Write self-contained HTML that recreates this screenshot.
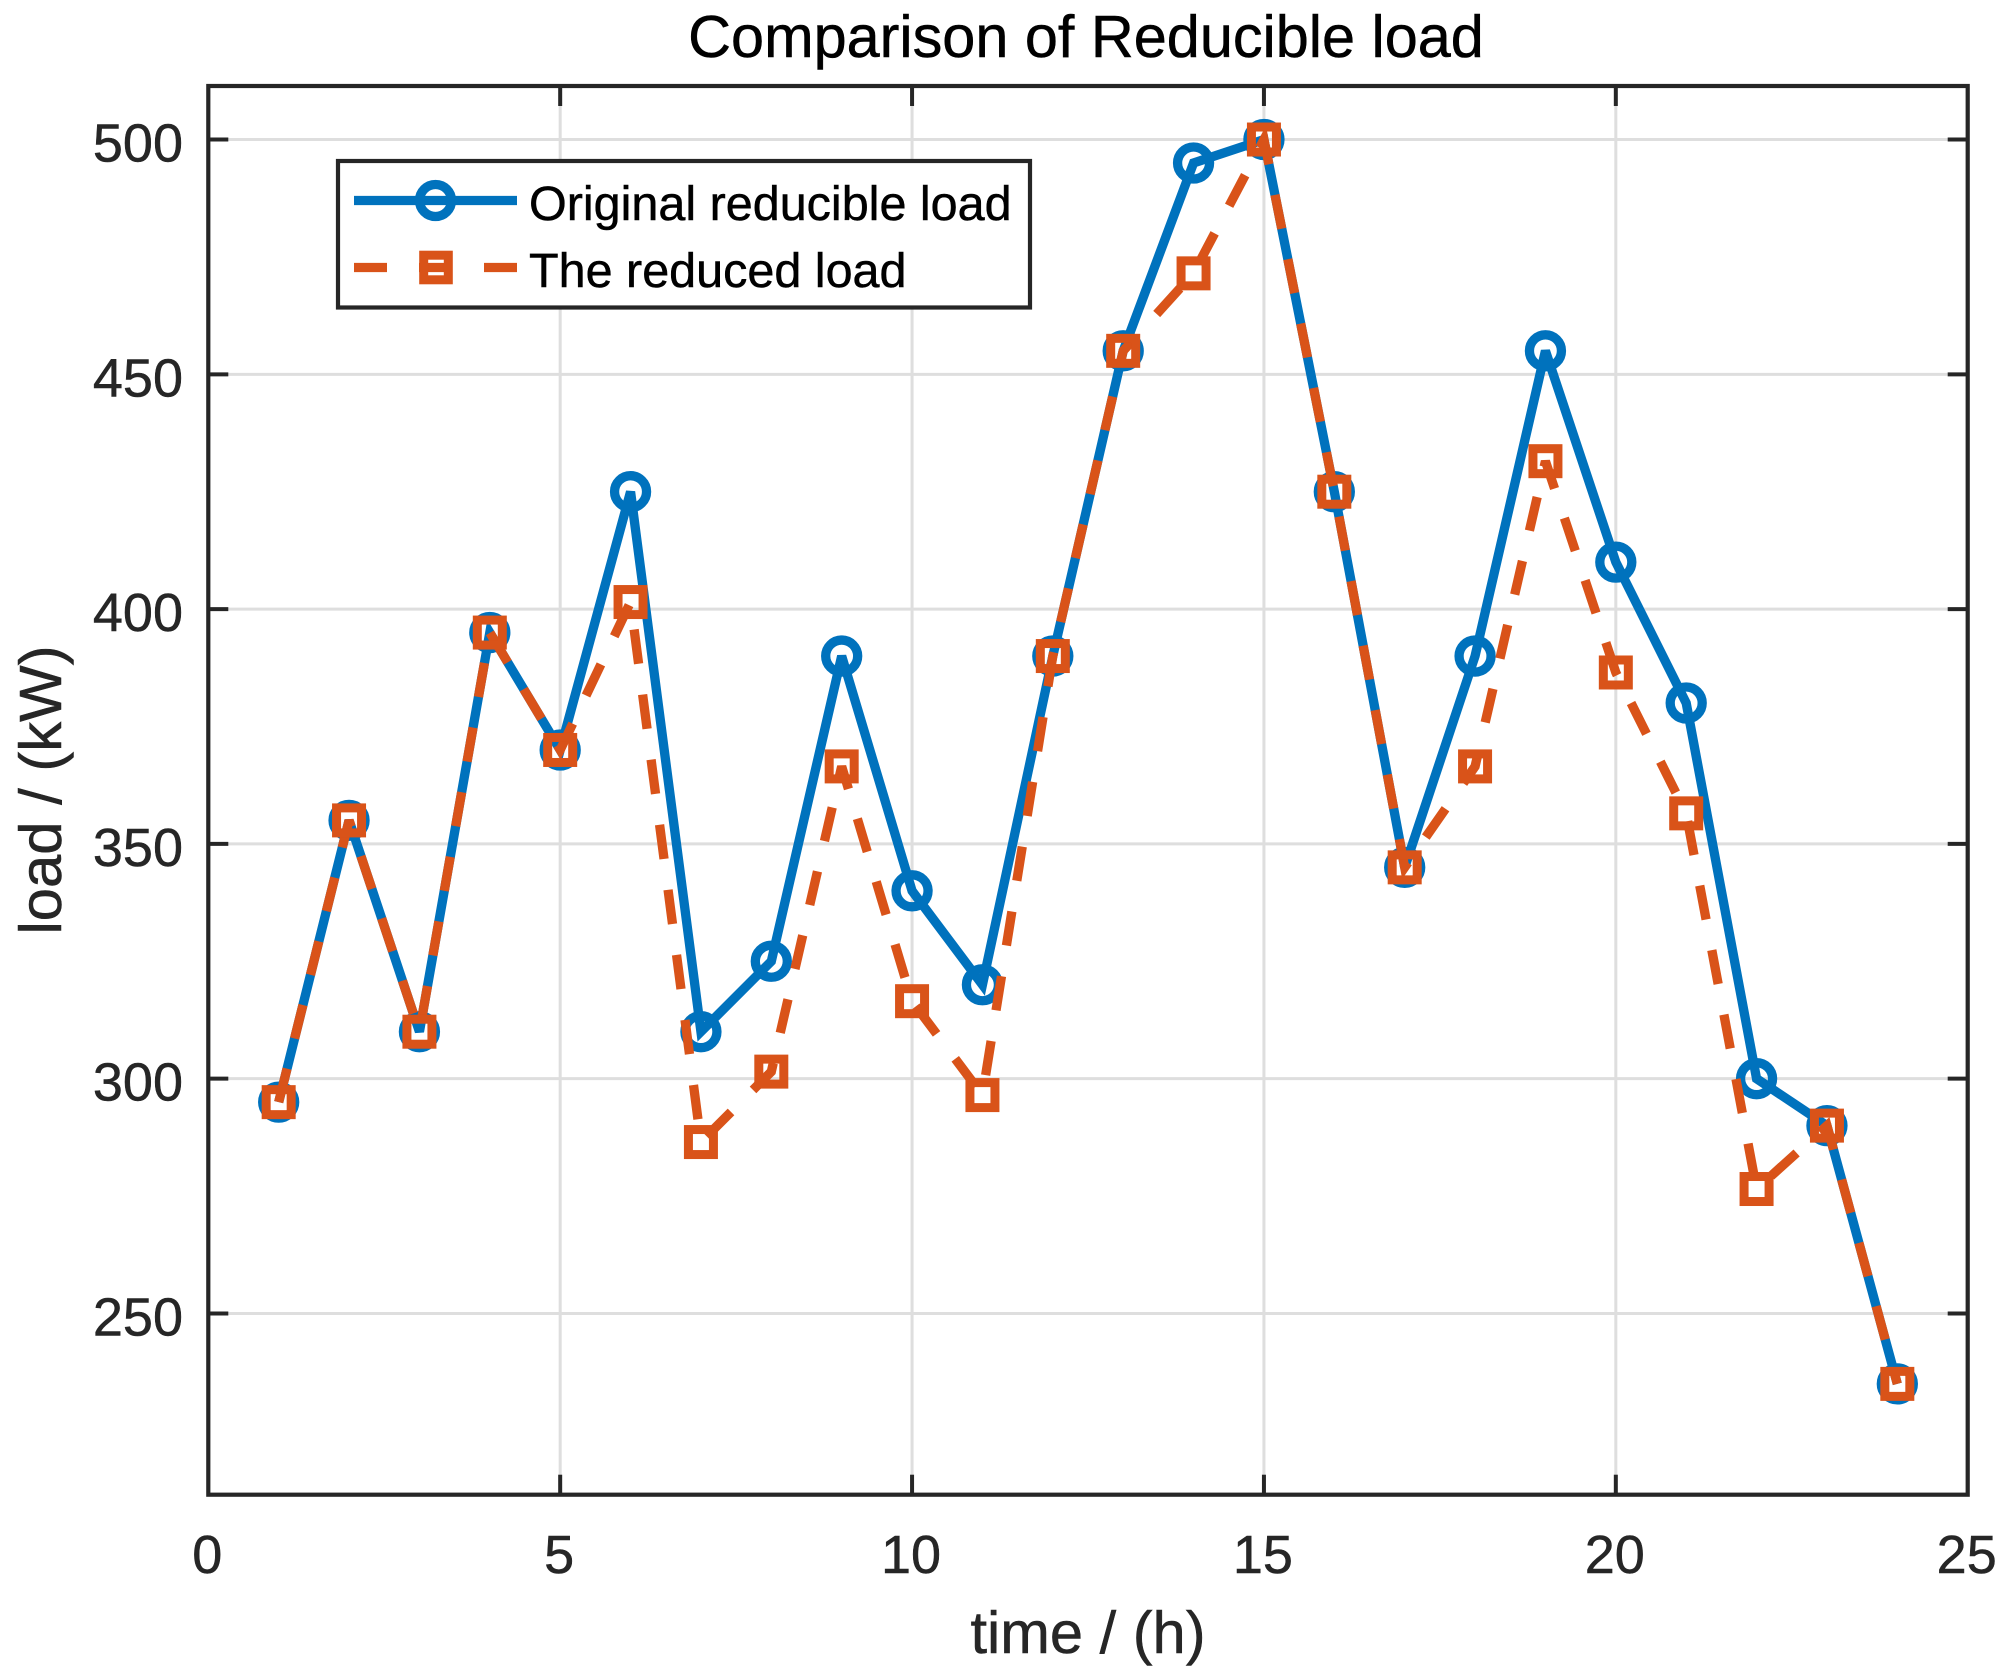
<!DOCTYPE html>
<html lang="en">
<head>
<meta charset="utf-8">
<title>Comparison of Reducible load</title>
<style>
html,body{margin:0;padding:0;background:#fff;}
svg{display:block;}
text{font-family:"Liberation Sans",Arial,sans-serif;stroke-width:0.5px;}
</style>
</head>
<body>
<svg id="chart" xmlns="http://www.w3.org/2000/svg" width="2007" height="1677" viewBox="0 0 2007 1677">
  <rect x="0" y="0" width="2007" height="1677" fill="#ffffff"/>
  <g id="grid"></g>
  <g id="ticks"></g>
  <g id="xlabels"></g>
  <g id="ylabels"></g>
  <g id="series"></g>
  <rect id="frame" x="208.3" y="86" width="1759.4" height="1408.7" fill="none" stroke="#262626" stroke-width="4.2"/>
  <text x="1086" y="57" text-anchor="middle" font-size="59.4" fill="#000000" stroke="#000000">Comparison of Reducible load</text>
  <text x="1088" y="1653" text-anchor="middle" font-size="59.6" fill="#262626" stroke="#262626">time / (h)</text>
  <text transform="translate(61,790) rotate(-90)" text-anchor="middle" font-size="59.8" fill="#262626" stroke="#262626">load / (kW)</text>
  <g>
    <rect x="338" y="161" width="692" height="146.5" fill="#ffffff" stroke="#262626" stroke-width="4.2"/>
    <g>
      <line x1="354" y1="200.5" x2="517" y2="200.5" stroke="#0072bd" stroke-width="9.3"/>
      <circle cx="435.5" cy="200.5" r="16" fill="none" stroke="#0072bd" stroke-width="9.3"/>
      <text x="529" y="220" font-size="48.5" fill="#000000" stroke="#000000">Original reducible load</text>
    </g>
    <g>
      <line x1="354" y1="267.5" x2="517" y2="267.5" stroke="#d95319" stroke-width="9.3" stroke-dasharray="33 32"/>
      <rect x="423.7" y="255.2" width="24.6" height="24.6" fill="none" stroke="#d95319" stroke-width="9"/>
      <text x="529" y="287" font-size="48.5" fill="#000000" stroke="#000000">The reduced load</text>
    </g>
  </g>
</svg>
<script>
const hours = [1,2,3,4,5,6,7,8,9,10,11,12,13,14,15,16,17,18,19,20,21,22,23,24];
const originalLoad = [295,355,310,395,370,425,310,325,390,340,320,390,455,495,500,425,345,390,455,410,380,300,290,235];
const reducedLoad = [295,355,310,395,370,401.5,286.5,301.5,366.5,316.5,296.5,390,455,471.5,500,425,345,366.5,431.5,386.5,356.5,276.5,290,235];
const xTickLabels = [0,5,10,15,20,25];
const yTickLabels = [250,300,350,400,450,500];

const NS = 'http://www.w3.org/2000/svg';
const plot = {left:208.3, right:1967.7, top:86, bottom:1494.7};
const xDomain = [0,25];
const yDomain = [211.4,511.4];
function xScale(v){return plot.left + (v-xDomain[0])/(xDomain[1]-xDomain[0])*(plot.right-plot.left);}
function yScale(v){return plot.bottom - (v-yDomain[0])/(yDomain[1]-yDomain[0])*(plot.bottom-plot.top);}
function make(tag, attrs, parent){
  const el = document.createElementNS(NS, tag);
  for (const k in attrs) el.setAttribute(k, attrs[k]);
  parent.appendChild(el);
  return el;
}
const gridG = document.getElementById('grid');
const ticksG = document.getElementById('ticks');
const xLabelsG = document.getElementById('xlabels');
const yLabelsG = document.getElementById('ylabels');
const seriesG = document.getElementById('series');
const TICK = 19;
const GRID = '#dedede';
const AXIS = '#262626';

xTickLabels.forEach(function(v){
  const x = xScale(v);
  if (v > xDomain[0] && v < xDomain[1]) {
    const g = make('line', {x1:x, y1:plot.top, x2:x, y2:plot.bottom, stroke:GRID, 'stroke-width':3}, gridG);
    
    
    const t1 = make('line', {x1:x, y1:plot.top, x2:x, y2:plot.top+TICK+1, stroke:AXIS, 'stroke-width':4}, ticksG);
    
    
    const t2 = make('line', {x1:x, y1:plot.bottom, x2:x, y2:plot.bottom-TICK-1, stroke:AXIS, 'stroke-width':4}, ticksG);
    
    
  }
  const lab = make('text', {x:x-1, y:1573, 'text-anchor':'middle', 'font-size':54, fill:AXIS, stroke:AXIS}, xLabelsG);
  
  
  lab.textContent = String(v);
});

yTickLabels.forEach(function(v){
  const y = yScale(v);
  const g = make('line', {x1:plot.left, y1:y, x2:plot.right, y2:y, stroke:GRID, 'stroke-width':3}, gridG);
  
  
  const t1 = make('line', {x1:plot.left, y1:y, x2:plot.left+TICK+1, y2:y, stroke:AXIS, 'stroke-width':4}, ticksG);
  
  
  const t2 = make('line', {x1:plot.right, y1:y, x2:plot.right-TICK-1, y2:y, stroke:AXIS, 'stroke-width':4}, ticksG);
  
  
  const lab = make('text', {x:183, y:y+22, 'text-anchor':'end', 'font-size':54, fill:AXIS, stroke:AXIS}, yLabelsG);
  
  
  lab.textContent = String(v);
});

function points(values){
  return values.map(function(v,i){return xScale(hours[i]).toFixed(2)+','+yScale(v).toFixed(2);}).join(' ');
}

const originalLine = make('polyline', {points:points(originalLoad), fill:'none', stroke:'#0072bd', 'stroke-width':9.3, 'stroke-linejoin':'miter', 'stroke-miterlimit':3}, seriesG);


originalLoad.forEach(function(v,i){
  const c = make('circle', {cx:xScale(hours[i]), cy:yScale(v), r:16, fill:'none', stroke:'#0072bd', 'stroke-width':9.3}, seriesG);
  
  
});

const reducedLine = make('polyline', {points:points(reducedLoad), fill:'none', stroke:'#d95319', 'stroke-width':9.3, 'stroke-dasharray':'34.5 31.12', 'stroke-linejoin':'miter', 'stroke-miterlimit':3}, seriesG);


reducedLoad.forEach(function(v,i){
  const s = make('rect', {x:xScale(hours[i])-12.5, y:yScale(v)-12.5, width:25, height:25, fill:'none', stroke:'#d95319', 'stroke-width':9}, seriesG);
  
  
});
</script>
</body>
</html>
